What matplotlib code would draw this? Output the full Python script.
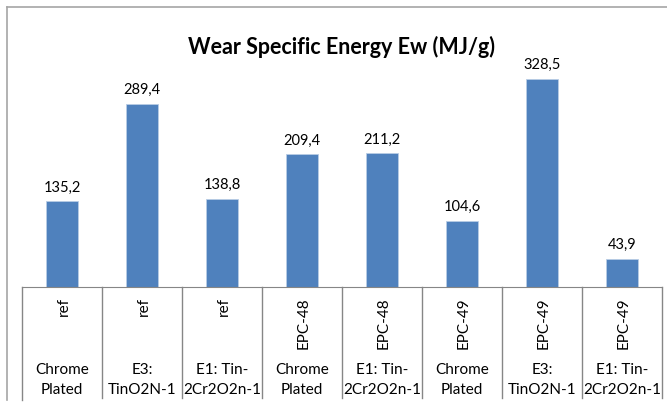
import matplotlib
matplotlib.use("Agg")
import matplotlib.pyplot as plt
from matplotlib.lines import Line2D

groups = ["ref", "ref", "ref", "EPC-48", "EPC-48", "EPC-49", "EPC-49", "EPC-49"]
coatings = ["Chrome\nPlated", "E3:\nTinO2N-1", "E1: Tin-\n2Cr2O2n-1", "Chrome\nPlated",
            "E1: Tin-\n2Cr2O2n-1", "Chrome\nPlated", "E3:\nTinO2N-1", "E1: Tin-\n2Cr2O2n-1"]
values = [135.2, 289.4, 138.8, 209.4, 211.2, 104.6, 328.5, 43.9]
title = "Wear Specific Energy Ew (MJ/g)"

plt.rcParams['font.family'] = ['Lato', 'DejaVu Sans']
W, H = 667, 405
fig = plt.figure(figsize=(W / 100, H / 100), dpi=100)

# outer chart frame
fig.add_artist(Line2D([7 / W, 7 / W], [1 - 7 / H, 1 - 400 / H], color="#a6a6a6", lw=1.2, transform=fig.transFigure))
fig.add_artist(Line2D([7 / W, 1], [1 - 7 / H, 1 - 7 / H], color="#a6a6a6", lw=1.2, transform=fig.transFigure))

x0, x1 = 22, 662
ybot, ytop = 287, 65.5
ax = fig.add_axes([x0 / W, 1 - ybot / H, (x1 - x0) / W, (ybot - ytop) / H])
n = len(values)
xs = list(range(n))
bars = ax.bar(xs, values, width=0.4, color="#4f81bd", edgecolor="#b9cde5", linewidth=0.6)
ax.set_xlim(-0.5, n - 0.5)
ax.set_ylim(0, 350)
for s in ["top", "right", "left"]:
    ax.spines[s].set_visible(False)
ax.spines["bottom"].set_color("#868686")
ax.set_xticks([])
ax.set_yticks([])

for x, v in zip(xs, values):
    ax.annotate(f"{v:.1f}".replace(".", ","), (x, v), xytext=(0, 5), textcoords="offset points",
                ha="center", va="bottom", fontsize=10.5)

ax.set_title(title, fontsize=15.5, fontweight="bold", pad=8)

# category label boxes below axis
trans = ax.get_xaxis_transform()
axh = (ybot - ytop)
def yfrac(py):
    return -(py - ybot) / axh

for i in range(n + 1):
    xb = i - 0.5
    ybottom = 400 if i == 0 else 398
    ax.add_artist(Line2D([xb, xb], [0, yfrac(ybottom)], color="#868686", lw=1.0,
                         transform=trans, clip_on=False))

for i in range(n):
    ax.text(i + 0.02, yfrac(297), groups[i], rotation=90, ha="center", va="top", fontsize=11,
            transform=trans, clip_on=False)
    ax.text(i, yfrac(380), coatings[i], ha="center", va="center", fontsize=11,
            linespacing=1.55, transform=trans, clip_on=False)

fig.savefig("out.png", dpi=100)
